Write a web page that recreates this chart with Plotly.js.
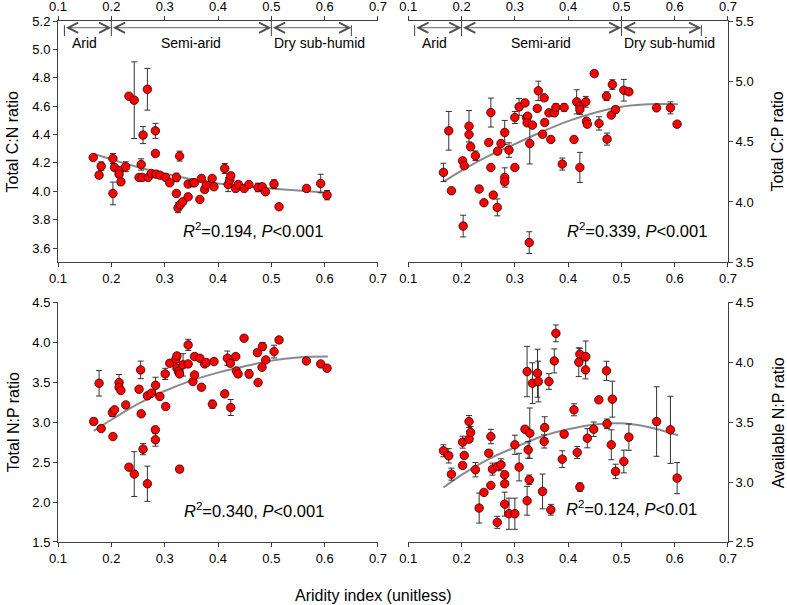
<!DOCTYPE html>
<html><head><meta charset="utf-8">
<script src="https://cdn.plot.ly/plotly-3.0.1.min.js"></script>
<style>html,body{margin:0;padding:0;background:#fff}#chart{width:787px;height:605px}</style>
</head><body><div id="chart"></div>
<script>
// ---------- Panel a: Total C:N ----------
const cnX = [0.166,0.177,0.181,0.203,0.203,0.206,0.2145,0.2145,0.218,0.227,0.233,0.243,0.256,0.252,0.258,0.2595,0.2676,0.269,0.2826,0.2826,0.275,0.284,0.291,0.302,0.3095,0.322,0.322,0.325,0.328,0.329,0.334,0.344,0.344,0.353,0.356,0.366,0.369,0.375,0.378,0.389,0.3925,0.4126,0.419,0.422,0.424,0.433,0.438,0.449,0.458,0.475,0.483,0.489,0.505,0.5145,0.566,0.5926,0.6045];
const cnY = [4.238,4.114,4.177,3.985,4.231,4.168,4.145,4.121,4.067,4.173,4.670,4.642,4.189,4.098,4.098,4.396,4.719,4.098,4.426,4.267,4.126,4.121,4.114,4.098,4.060,4.098,3.985,3.884,4.248,3.905,3.926,3.961,4.051,4.060,4.060,3.943,4.091,4.013,4.044,4.091,4.032,4.161,4.048,4.079,4.109,4.020,4.048,4.020,4.048,4.027,4.032,3.997,4.051,3.891,4.020,4.055,3.973];
const cnErr = [0.01,0.02,0.03,0.08,0.035,0.01,0.02,0.02,0.02,0.035,0.01,0.27,0.04,0.01,0.01,0.06,0.147,0.01,0.053,0.01,0.01,0.01,0.01,0.01,0.01,0.03,0.01,0.035,0.035,0.01,0.01,0.01,0.01,0.01,0.01,0.01,0.01,0.02,0.01,0.01,0.02,0.035,0.05,0.01,0.02,0.01,0.01,0.01,0.01,0.03,0.01,0.01,0.03,0.01,0.01,0.065,0.033];
const cnFitX = [0.167,0.2,0.25,0.3,0.35,0.4,0.45,0.5,0.55,0.606];
const cnFitY = [4.265,4.225,4.17,4.125,4.085,4.055,4.035,4.02,4.005,3.99];

// ---------- Panel b: Total C:P ----------
const cpX = [0.166,0.176,0.181,0.203,0.202,0.205,0.214,0.214,0.217,0.226,0.233,0.242,0.251,0.255,0.255,0.2595,0.2676,0.267,0.274,0.281,0.281,0.281,0.289,0.300,0.300,0.308,0.319,0.322,0.324,0.323,0.328,0.333,0.327,0.342,0.344,0.352,0.356,0.355,0.364,0.3675,0.374,0.377,0.389,0.3925,0.411,0.416,0.422,0.422,0.422,0.433,0.4345,0.436,0.449,0.458,0.472,0.473,0.483,0.481,0.489,0.5045,0.514,0.566,0.592,0.6045];
const cpY = [4.245,4.59,4.093,3.80,4.341,4.30,4.628,4.559,4.457,4.383,4.107,3.994,4.493,4.741,4.286,4.057,4.421,3.955,4.485,4.576,4.203,4.167,4.43,4.286,4.70,4.788,4.821,4.70,4.711,4.656,4.485,4.637,3.663,4.775,4.921,4.562,4.659,4.863,4.739,4.518,4.739,4.783,4.314,4.783,4.518,4.83,4.794,4.766,4.286,4.83,4.67,4.645,5.064,4.651,4.877,4.521,4.973,4.72,4.766,4.926,4.913,4.78,4.78,4.645];
const cpErr = [0.076,0.16,0.01,0.09,0.02,0.02,0.13,0.02,0.03,0.04,0.01,0.01,0.01,0.12,0.01,0.02,0.02,0.07,0.02,0.1,0.08,0.02,0.06,0.02,0.05,0.07,0.02,0.02,0.02,0.02,0.17,0.02,0.09,0.02,0.08,0.02,0.02,0.02,0.02,0.02,0.03,0.03,0.05,0.03,0.02,0.1,0.03,0.04,0.125,0.045,0.02,0.02,0.02,0.055,0.035,0.05,0.04,0.02,0.02,0.09,0.02,0.02,0.05,0.02];
const cpFitX = [0.167,0.2,0.25,0.3,0.35,0.4,0.45,0.5,0.55,0.606];
const cpFitY = [4.17,4.26,4.38,4.48,4.58,4.67,4.74,4.79,4.81,4.81];

// ---------- Panel c: Total N:P ----------
const npX = [0.167,0.177,0.181,0.202,0.206,0.203,0.2145,0.2145,0.218,0.227,0.233,0.243,0.252,0.255,0.256,0.2595,0.2676,0.2676,0.275,0.2826,0.2826,0.283,0.291,0.302,0.301,0.3095,0.321,0.323,0.323,0.326,0.328,0.328,0.3345,0.344,0.344,0.353,0.356,0.356,0.366,0.369,0.375,0.378,0.3895,0.3925,0.4126,0.4176,0.4233,0.4239,0.4333,0.4345,0.4376,0.4489,0.4583,0.4739,0.4751,0.4833,0.4826,0.4895,0.5051,0.5145,0.5658,0.5926,0.6045];
const npY = [3.008,3.487,2.92,3.12,3.154,2.82,3.496,3.437,3.396,3.216,2.437,2.35,3.412,3.654,3.104,2.662,2.229,3.329,3.362,2.904,2.779,3.462,3.321,3.196,3.604,3.737,3.787,3.829,3.675,3.633,3.604,2.412,3.717,3.966,3.729,3.508,3.821,3.591,3.8,3.437,3.729,3.746,3.225,3.758,3.354,3.8,3.737,3.183,3.821,3.641,3.604,4.05,3.604,3.87,3.496,3.946,3.687,3.779,3.883,4.029,3.766,3.729,3.675];
const npErr = [0.04,0.16,0.03,0.05,0.02,0.01,0.1,0.02,0.02,0.02,0.01,0.28,0.01,0.11,0.01,0.07,0.22,0.01,0.01,0.03,0.08,0.1,0.02,0.01,0.07,0.02,0.02,0.02,0.02,0.02,0.02,0.04,0.14,0.07,0.02,0.02,0.02,0.02,0.02,0.01,0.02,0.02,0.05,0.01,0.02,0.09,0.02,0.1,0.02,0.02,0.02,0.01,0.05,0.02,0.03,0.05,0.02,0.02,0.08,0.02,0.02,0.02,0.02];
const npFitX = [0.167,0.2,0.25,0.3,0.35,0.4,0.45,0.5,0.55,0.606];
const npFitY = [2.89,3.03,3.23,3.39,3.52,3.62,3.70,3.77,3.81,3.82];

// ---------- Panel d: Available N:P ----------
const anX = [0.166,0.176,0.181,0.202,0.202,0.205,0.214,0.214,0.217,0.226,0.233,0.242,0.251,0.255,0.255,0.258,0.267,0.2676,0.274,0.281,0.281,0.281,0.289,0.300,0.300,0.308,0.319,0.323,0.323,0.325,0.327,0.328,0.333,0.3425,0.344,0.352,0.355,0.356,0.364,0.3675,0.374,0.377,0.389,0.3925,0.411,0.417,0.422,0.420,0.422,0.433,0.4326,0.436,0.448,0.4576,0.472,0.473,0.483,0.481,0.489,0.5045,0.514,0.566,0.592,0.6045];
const anY = [3.261,3.219,3.066,3.333,3.139,3.222,3.505,3.358,3.414,3.103,2.783,2.914,3.241,3.38,2.972,3.108,2.664,3.13,3.144,3.061,2.986,2.816,2.736,2.736,3.311,3.125,3.441,3.922,2.844,3.269,3.019,3.408,3.825,3.908,3.839,2.922,3.339,3.455,3.839,2.769,4.011,4.241,3.191,3.4,3.603,3.247,4.066,4.0,2.958,4.047,3.936,3.366,3.441,3.686,3.928,3.486,3.692,3.311,3.089,3.172,3.375,3.505,3.436,3.033];
const anErr = [0.05,0.06,0.05,0.05,0.02,0.02,0.05,0.02,0.05,0.06,0.125,0.02,0.02,0.06,0.02,0.05,0.05,0.02,0.05,0.02,0.02,0.1,0.13,0.13,0.08,0.115,0.02,0.21,0.12,0.07,0.04,0.21,0.17,0.2,0.17,0.145,0.055,0.09,0.065,0.045,0.1,0.07,0.07,0.02,0.05,0.05,0.05,0.12,0.035,0.13,0.075,0.08,0.06,0.02,0.08,0.04,0.15,0.125,0.06,0.095,0.11,0.29,0.28,0.13];
const anFitX = [0.166,0.2,0.25,0.3,0.35,0.4,0.45,0.5,0.55,0.606];
const anFitY = [2.955,3.06,3.19,3.29,3.38,3.44,3.48,3.49,3.46,3.39];

// ---------- Labels / ticks ----------
const xTicks = [0.1,0.2,0.3,0.4,0.5,0.6,0.7];
const cnTicks = [3.6,3.8,4.0,4.2,4.4,4.6,4.8,5.0,5.2];
const cpTicks = [3.5,4.0,4.5,5.0,5.5];
const npTicks = [1.5,2.0,2.5,3.0,3.5,4.0,4.5];
const anTicks = [2.5,3.0,3.5,4.0,4.5];
const yTitles = ['Total C:N ratio','Total C:P ratio','Total N:P ratio','Available N:P ratio'];
const statTexts = [
  '<i>R</i><sup>2</sup>=0.194, <i>P</i>&lt;0.001',
  '<i>R</i><sup>2</sup>=0.339, <i>P</i>&lt;0.001',
  '<i>R</i><sup>2</sup>=0.340, <i>P</i>&lt;0.001',
  '<i>R</i><sup>2</sup>=0.124, <i>P</i>&lt;0.01'
];
const xTitle = 'Aridity index (unitless)';
const zoneEdges = [0.112, 0.2, 0.5, 0.65];
const zoneNames = ['Arid','Semi-arid','Dry sub-humid'];
const zoneLabelX = [0.15, 0.35, 0.59];

const FONT = 'Liberation Sans, Arial, sans-serif';
const AX = '#404040';

function pts(x, y, e, xa, ya) {
  return {x:x, y:y, xaxis:xa, yaxis:ya, type:'scatter', mode:'markers', showlegend:false, hoverinfo:'x+y',
    marker:{size:8.5, color:'#ff0000', line:{color:'#300000', width:0.8}},
    error_y:{type:'data', array:e, visible:true, color:'#333333', thickness:1, width:3}};
}
function fit(x, y, xa, ya) {
  return {x:x, y:y, xaxis:xa, yaxis:ya, type:'scatter', mode:'lines', showlegend:false, hoverinfo:'skip',
    line:{color:'#8a8a8a', width:2, shape:'spline'}};
}
const traces = [
  fit(cnFitX, cnFitY, 'x', 'y'), pts(cnX, cnY, cnErr, 'x', 'y'),
  fit(cpFitX, cpFitY, 'x2', 'y2'), pts(cpX, cpY, cpErr, 'x2', 'y2'),
  fit(npFitX, npFitY, 'x3', 'y3'), pts(npX, npY, npErr, 'x3', 'y3'),
  fit(anFitX, anFitY, 'x4', 'y4'), pts(anX, anY, anErr, 'x4', 'y4'),
  {x:[], y:[], xaxis:'x5', yaxis:'y', type:'scatter', mode:'markers', showlegend:false, hoverinfo:'skip'},
  {x:[], y:[], xaxis:'x6', yaxis:'y2', type:'scatter', mode:'markers', showlegend:false, hoverinfo:'skip'}
];

function base(extra) {
  return Object.assign({showline:true, linecolor:AX, linewidth:1, ticks:'outside', ticklen:4, tickcolor:AX, tickwidth:1,
    showgrid:false, zeroline:false, tickfont:{size:13, color:'#000', family:FONT}, fixedrange:true, tickmode:'array'}, extra);
}
const fmt = (a, d) => a.map(v => v.toFixed(d));
function xax(dom, anchor, extra) {
  return base(Object.assign({domain:dom, anchor:anchor, range:[0.1,0.7], tickvals:xTicks, ticktext:fmt(xTicks,1)}, extra||{}));
}
const L = [0, 0.4776], R = [0.5228, 1], T = [0.5369, 1], B = [0, 0.4601];

const annotations = [];
const shapes = [];
['x','x2'].forEach(xr => {
  for (let i = 0; i < 3; i++) {
    annotations.push({xref:xr, yref:'paper', x:zoneEdges[i+1], y:0.9871, axref:xr, ax:zoneEdges[i], ayref:'pixel', ay:0,
      text:'', showarrow:true, arrowhead:5, startarrowhead:5, arrowside:'end+start', arrowsize:2.2, startarrowsize:2.2,
      arrowwidth:0.9, arrowcolor:'#505050', standoff:0, startstandoff:0});
    annotations.push({xref:xr, yref:'paper', x:zoneLabelX[i], y:0.9578, text:zoneNames[i], showarrow:false,
      xanchor:'center', yanchor:'middle', font:{size:14, color:'#000', family:FONT}});
  }
  zoneEdges.forEach((e, j) => {
    const inner = (j === 1 || j === 2);
    shapes.push({type:'line', xref:xr, yref:'paper', x0:e, x1:e, y0:0.9712, y1: inner ? 1.0 : 0.992,
      line:{color:AX, width:1}});
  });
});
const statPos = [[0.2903,0.5988],[0.8637,0.5988],[0.2922,0.0614],[0.8563,0.0653]];
statTexts.forEach((t, i) => annotations.push({xref:'paper', yref:'paper', x:statPos[i][0], y:statPos[i][1], text:t,
  showarrow:false, xanchor:'center', yanchor:'middle', font:{size:16.5, color:'#000', family:FONT}}));
const titlePos = [[-0.0672,0.7687],[1.0746,0.7687],[-0.0672,0.2297],[1.0746,0.2297]];
yTitles.forEach((t, i) => annotations.push({xref:'paper', yref:'paper', x:titlePos[i][0], y:titlePos[i][1], text:t,
  textangle:-90, showarrow:false, xanchor:'center', yanchor:'middle', font:{size:16, color:'#000', family:FONT}}));
annotations.push({xref:'paper', yref:'paper', x:0.3503, y:-0.1036, text:xTitle, showarrow:false,
  xanchor:'left', yanchor:'middle', font:{size:16, color:'#000', family:FONT}});

const layout = {
  width:787, height:605, margin:{l:58, r:59, t:21, b:63, pad:0},
  paper_bgcolor:'#fff', plot_bgcolor:'rgba(0,0,0,0)', showlegend:false,
  font:{family:FONT, size:13, color:'#000'},
  xaxis: xax(L, 'y'),
  xaxis5: xax(L, 'y', {overlaying:'x', side:'top'}),
  yaxis: base({domain:T, anchor:'x', range:[3.5,5.2], tickvals:cnTicks, ticktext:fmt(cnTicks,1)}),
  xaxis2: xax(R, 'y2'),
  xaxis6: xax(R, 'y2', {overlaying:'x2', side:'top'}),
  yaxis2: base({domain:T, anchor:'x2', side:'right', range:[3.5,5.5], tickvals:cpTicks, ticktext:fmt(cpTicks,1)}),
  xaxis3: xax(L, 'y3'),
  yaxis3: base({domain:B, anchor:'x3', range:[1.5,4.5], tickvals:npTicks, ticktext:fmt(npTicks,1)}),
  xaxis4: xax(R, 'y4'),
  yaxis4: base({domain:B, anchor:'x4', side:'right', range:[2.5,4.5], tickvals:anTicks, ticktext:fmt(anTicks,1)}),
  annotations: annotations,
  shapes: shapes
};
Plotly.newPlot('chart', traces, layout, {staticPlot:true, displayModeBar:false});
</script>
</body></html>
